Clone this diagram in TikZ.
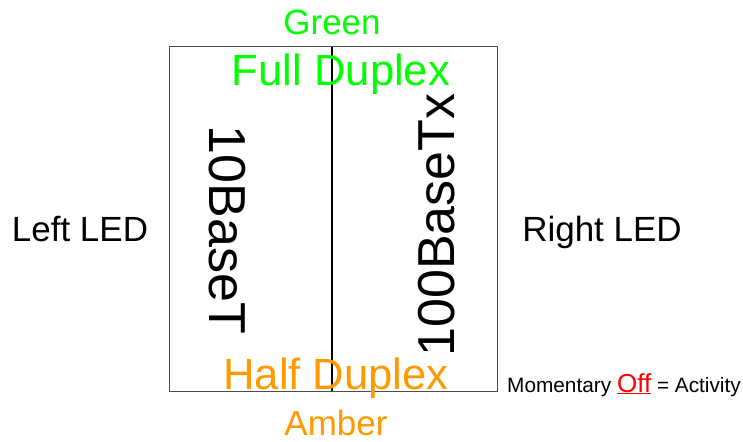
\documentclass[tikz,border=0pt]{standalone}
\usepackage{fontspec}
\setmainfont{Liberation Sans}
\definecolor{ledgreen}{RGB}{0,255,0}
\definecolor{ledamber}{RGB}{255,153,0}
\definecolor{ledred}{RGB}{255,0,0}
\begin{document}
\begin{tikzpicture}[x=1pt, y=-1pt]
        \useasboundingbox (0,0) rectangle (743,441);
        \node[draw=black!70, line width=1pt, minimum width=328pt, minimum height=344pt, inner sep=0pt] (panel) at (333,219) {};
        \draw[line width=2.5pt] (332,47) coordinate (top) -- (332,391) coordinate (bot);
        \node[anchor=base, text=ledgreen, font=\fontsize{35}{40}\selectfont] (green) at (332,35) {Green};
        \node[anchor=base, text=ledgreen, font=\fontsize{43.6}{48}\selectfont] (full) at (341,85) {Full Duplex};
        \node[anchor=base, text=ledamber, font=\fontsize{43.6}{48}\selectfont] (half) at (336,389) {Half Duplex};
        \node[anchor=base, text=ledamber, font=\fontsize{35}{40}\selectfont] (amber) at (336,435) {Amber};
        \node[anchor=base, font=\fontsize{35}{40}\selectfont] (left) at (80,241) {Left LED};
        \node[anchor=base, font=\fontsize{35}{40}\selectfont] (right) at (602,241) {Right LED};
        \node[rotate=-90, font=\fontsize{52}{56}\selectfont] (ten) at (227.5,230) {10BaseT};
        \node[rotate=90, font=\fontsize{52}{56}\selectfont] (hundred) at (437,225) {100BaseTx};
        \node[anchor=base, font=\fontsize{20.8}{24}\selectfont] (note) at (624,392) {Momentary {\color{ledred}\fontsize{26}{30}\selectfont\underline{Off}} = Activity};
\end{tikzpicture}
\end{document}
